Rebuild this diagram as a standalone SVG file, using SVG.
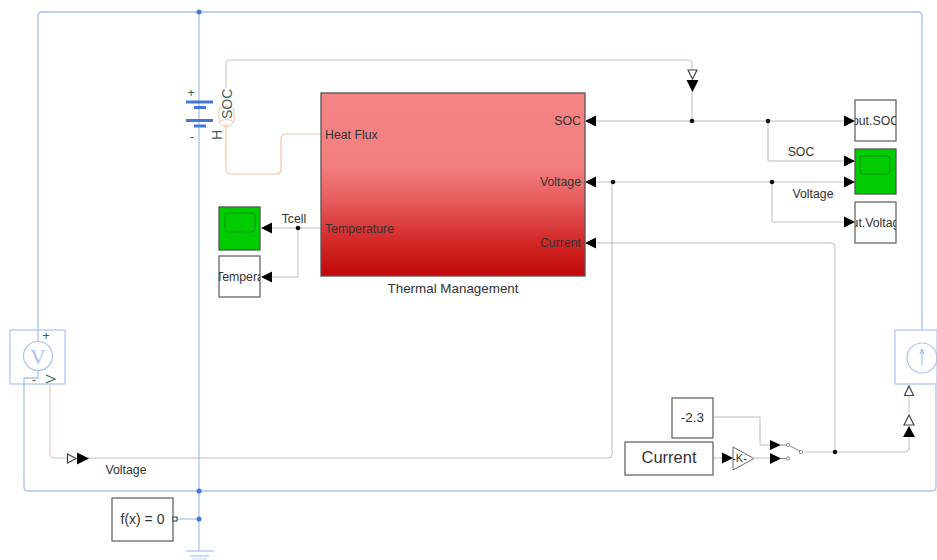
<svg xmlns="http://www.w3.org/2000/svg" width="937" height="560" viewBox="0 0 937 560">
<style>
text{font-family:"Liberation Sans",Arial,sans-serif;fill:#333}
.b{fill:none;stroke:#a9c3ee;stroke-width:1.3}
.bs{fill:none;stroke:#8fb2ea;stroke-width:1}
.s{fill:none;stroke:#bdbdbd;stroke-width:1}
.p{fill:none;stroke:#dcc4c8;stroke-width:1.2}
.o{fill:none;stroke:#f8c3a4;stroke-width:1.2}
.blk{fill:#fff;stroke:#666;stroke-width:1.3}
.sc{fill:#00cc00;stroke:#555;stroke-width:1.3}
.scr{fill:none;stroke:#149014;stroke-width:1}
.a{fill:#000}
.h{fill:#fff;stroke:#444;stroke-width:1.2}
.d{fill:#111}
.bd{fill:#3f78d8}
.t12{font-size:12.300px}
.g{fill:#3d5f5f}
</style>
<defs>
<linearGradient id="red" x1="0" y1="0" x2="0" y2="1">
<stop offset="0" stop-color="#f58484"/><stop offset="0.4" stop-color="#f37f7f"/><stop offset="0.6" stop-color="#e65a5a"/><stop offset="0.8" stop-color="#d42a2a"/><stop offset="1" stop-color="#c00808"/>
</linearGradient>
</defs>
<g id="gain">
<polygon points="733,447 733,470 754,458.500" fill="#fff" stroke="#666"/>
<text x="739.500" y="462" font-size="11" text-anchor="middle">-K-</text>
</g>
<g id="connectors">
<path class="b" d="M38 330V16q0-4 4-4H918q4 0 4 4V330"/>
<path class="b" d="M24 378V487q0 4 4 4H932q4 0 4-4V385"/>
<path class="bs" d="M199 12V551"/>
<path class="bs" d="M177 519H199"/>
<path class="bs" d="M186 551H214M190 556H209"/>
<path d="M192 559H207" stroke="#c9d8f3" fill="none"/>
<path class="p" d="M226 88V64q0-4 4-4H688q4 0 4 4V72"/>
<path class="o" d="M226 124V169q0 5 5 5H276q5 0 5-5V139q0-5 5-5H321"/>
<path class="s" d="M692 90V121"/>
<path class="s" d="M595 121H855"/>
<path class="s" d="M768 121V161H855"/>
<path class="s" d="M595 182H855"/>
<path class="s" d="M772 182V222H855"/>
<path class="s" d="M321 228H272"/>
<path class="s" d="M298 228V277H272"/>
<path class="s" d="M50 385V454q0 4 4 4H67" style="stroke:#dcbcbc"/>
<path class="s" d="M88 458H608q4 0 4-4V182"/>
<path class="s" d="M595 243H831q4 0 4 4V452"/>
<path class="s" d="M714 417H760V445H770"/>
<path class="s" d="M713 458H722M752 458H770"/>
<path class="s" d="M805 452H905q4 0 4-4V437"/>
<path class="p" d="M909 396V413"/>
<circle class="d" cx="692" cy="121" r="2.300"/>
<circle class="d" cx="768" cy="121" r="2.300"/>
<circle class="d" cx="613" cy="182" r="2.300"/>
<circle class="d" cx="772" cy="182" r="2.300"/>
<circle class="d" cx="298" cy="228" r="2.300"/>
<circle class="d" cx="835" cy="452" r="2.300"/>
<circle class="bd" cx="199" cy="12" r="2.500"/>
<circle class="bd" cx="199" cy="491" r="2.500"/>
<circle class="bd" cx="199" cy="519" r="2.500"/>
<polygon class="h" points="688,70 697,70 692.500,79"/>
<polygon class="a" points="686.500,80 698.500,80 692.500,92"/>
<polygon class="a" points="585,121 596,115.500 596,126.500"/>
<polygon class="a" points="585,182 596,176.500 596,187.500"/>
<polygon class="a" points="585,243 596,237.500 596,248.500"/>
<polygon class="a" points="844,115.500 855,121 844,126.500"/>
<polygon class="a" points="844,155.500 855,161 844,166.500"/>
<polygon class="a" points="844,176.500 855,182 844,187.500"/>
<polygon class="a" points="844,216.500 855,222 844,227.500"/>
<polygon class="a" points="261,228 272,222.500 272,233.500"/>
<polygon class="a" points="261,277 272,271.500 272,282.500"/>
<polygon class="h" points="67.500,454 76,458.500 67.500,463"/>
<polygon class="a" points="77,452.500 89,458.500 77,464.500"/>
<polygon class="a" points="722,452.500 733,458 722,463.500"/>
<polygon class="a" points="770,440 781,445 770,450"/>
<polygon class="a" points="770,453 781,458.500 770,464"/>
<polygon class="h" points="909,386 913.500,395.500 904.500,395.500"/>
<polygon class="h" points="909,415 914,425 904,425"/>
<polygon class="a" points="909,426 915,437 903,437"/>
</g>
<g id="battery">
<path d="M186 102H213M194 107.500H206M186 120.500H213M194 126H206" stroke="#3f78d8" stroke-width="3" fill="none"/>
<text x="191" y="97" font-size="13" text-anchor="middle" style="fill:#3d5f5f">+</text>
<text x="192" y="141" font-size="13" text-anchor="middle" style="fill:#3d5f5f">-</text>
<path d="M219 109Q226 104 234 109V122Q230 127 226 127Q222 127 219 122Z" fill="none" stroke="#f8c3a4"/>
<path d="M219 122Q226 117 234 122" fill="none" stroke="#f8c3a4"/>
<text transform="translate(232,119) rotate(-90)" font-size="14" style="fill:#3d5f5f">SOC</text>
<text transform="translate(222,140) rotate(-90)" font-size="14" style="fill:#3d5f5f">H</text>
</g>
<g id="thermal">
<rect x="321" y="93" width="264" height="183" fill="url(#red)" stroke="#555" stroke-width="1.300"/>
<text x="325" y="139" class="t12">Heat Flux</text>
<text x="325" y="233" class="t12">Temperature</text>
<text x="581" y="125" class="t12" text-anchor="end">SOC</text>
<text x="581" y="186" class="t12" text-anchor="end">Voltage</text>
<text x="581" y="247" class="t12" text-anchor="end">Current</text>
<text x="453" y="293" font-size="13.400" text-anchor="middle">Thermal Management</text>
</g>
<g id="outSOC">
<rect class="blk" x="855" y="100" width="41" height="41"/>
<svg x="855" y="100" width="41" height="41" viewBox="0 0 41 41"><text x="20.500" y="25" class="t12" text-anchor="middle">out.SOC</text></svg>
</g>
<g id="scope2">
<rect class="sc" x="855" y="149" width="41" height="45"/>
<rect class="scr" x="860" y="156" width="30" height="18" rx="3"/>
</g>
<g id="outVoltage">
<rect class="blk" x="855" y="202" width="41" height="41"/>
<svg x="855" y="202" width="41" height="41" viewBox="0 0 41 41"><text x="20.500" y="25" class="t12" text-anchor="middle">out.Voltage</text></svg>
</g>
<g id="scope1">
<rect class="sc" x="219" y="207" width="41" height="43"/>
<rect class="scr" x="225" y="213" width="30" height="19" rx="3"/>
</g>
<g id="temperature">
<rect class="blk" x="219" y="256" width="41" height="41"/>
<svg x="219" y="256" width="41" height="41" viewBox="0 0 41 41"><text x="-3" y="25" class="t12">Temperature</text></svg>
</g>
<g id="voltmeter">
<rect x="10" y="330" width="55" height="54" fill="#fff" stroke="#a9c3ee" stroke-width="1.200"/>
<circle cx="38" cy="356" r="14.500" fill="none" stroke="#a9c3ee" stroke-width="1.200"/>
<text x="38" y="364" font-size="22" text-anchor="middle" style="font-family:'Liberation Serif',serif;fill:#a9c3ee">V</text>
<text x="46" y="340" font-size="13" text-anchor="middle" style="fill:#3d5f5f">+</text>
<text x="34" y="384" class="t12" text-anchor="middle" style="fill:#3d5f5f">-</text>
<path d="M46 375L55 379L46 383" fill="none" stroke="#3d5f5f" stroke-width="1.100"/>
<path class="b" d="M24 385V378H38V371M38 330V341"/>
</g>
<g id="source">
<rect x="895" y="330" width="42" height="54" fill="#fff" stroke="#a9c3ee" stroke-width="1.200"/>
<circle cx="922" cy="358" r="15" fill="none" stroke="#a9c3ee" stroke-width="1.200"/>
<path d="M922 365V350M920 354L922 349L924 354" fill="none" stroke="#8fb2ea"/>
</g>
<g id="constant">
<rect class="blk" x="672" y="398" width="41" height="40"/>
<text x="692.500" y="422" font-size="13.500" text-anchor="middle">-2.3</text>
</g>
<g id="current">
<rect class="blk" x="625" y="442" width="88" height="33"/>
<text x="669" y="463" font-size="16.500" text-anchor="middle">Current</text>
</g>
<g id="switch">
<circle cx="788" cy="445" r="1.700" fill="#fff" stroke="#888"/>
<circle cx="788" cy="458.500" r="1.700" fill="#fff" stroke="#888"/>
<circle cx="801" cy="452" r="1.700" fill="#fff" stroke="#888"/>
<path d="M781 445H786M781 458.500H786M790 446L800 451" stroke="#888" fill="none"/>
</g>
<g id="solver">
<rect class="blk" x="112" y="498" width="61" height="43"/>
<text x="142.500" y="524" font-size="14" text-anchor="middle">f(x) = 0</text>
<rect x="173" y="517" width="4" height="4" fill="#fff" stroke="#333"/>
</g>
<g id="labels">
<text x="801" y="156" class="t12" text-anchor="middle">SOC</text>
<text x="813" y="198" class="t12" text-anchor="middle">Voltage</text>
<text x="294" y="223" class="t12" text-anchor="middle">Tcell</text>
<text x="126" y="474" class="t12" text-anchor="middle">Voltage</text>
</g>
</svg>
